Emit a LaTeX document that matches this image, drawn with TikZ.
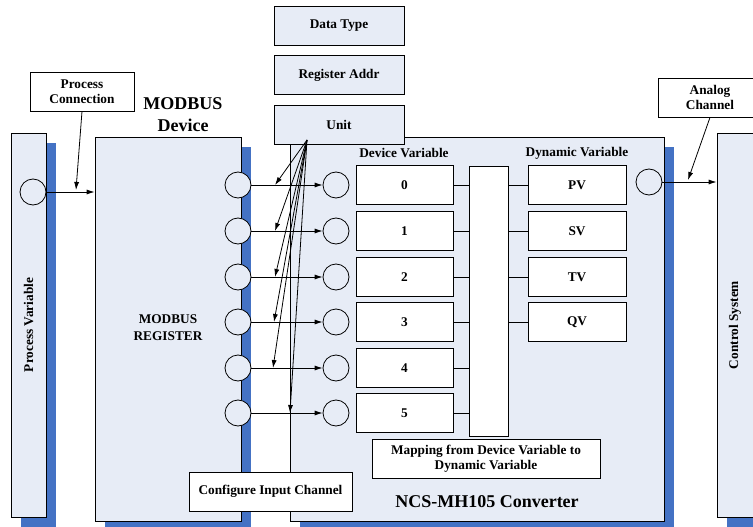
\documentclass[tikz,border=0pt]{standalone}
\usepackage{fontspec}
\setmainfont{Liberation Serif}
\usepackage{tikz}
\usetikzlibrary{positioning}
\usetikzlibrary{shadows}
\usetikzlibrary{arrows.meta}
\definecolor{boxfill}{RGB}{231,236,246}
\definecolor{shadowblue}{RGB}{68,114,196}
\tikzset{every picture/.style={line width=0.8pt,>={Latex[length=8pt,width=5pt]}},
panel/.style={draw,fill=boxfill,inner sep=0pt,drop shadow={shadow xshift=10pt,shadow yshift=-10pt,fill=shadowblue,opacity=1}},
tag/.style={draw,fill=white,inner sep=0pt,font=\fontsize{13.3}{15}\selectfont\bfseries,align=center},
bluetag/.style={tag,fill=boxfill,minimum width=130pt,minimum height=39pt},
port/.style={draw,circle,fill=boxfill,minimum size=26pt,inner sep=0pt},
title/.style={font=\fontsize{18}{22}\selectfont\bfseries,align=center},
caption/.style={font=\fontsize{13.3}{17}\selectfont\bfseries,align=center}}

\begin{document}
\begin{tikzpicture}[x=1pt,y=-1pt]
\useasboundingbox (0,0) rectangle (753,527);
% the four panels
\node[panel,minimum width=35pt,minimum height=384pt] (pvpanel) at (28.5,325) {};
\node[panel,minimum width=146pt,minimum height=384pt] (device) at (168,329) {};
\node[panel,minimum width=374pt,minimum height=384pt] (conv) at (477,329) {};
\node[panel,minimum width=53pt,minimum height=384pt] (cspanel) at (743.5,325) {};
\node[caption,rotate=90] (pvtext) at (pvpanel.center) {Process Variable};
\node[caption,rotate=90] (cstext) at (735,325) {Control System};
\node[title] (devtitle) at (183,115) {MODBUS\\Device};
\node[caption] (regtext) at (168,328) {MODBUS\\REGISTER};
\node[title] (convtitle) at (487,502) {NCS-MH105 Converter};
% channel settings
\node[bluetag] (dtype) at (339,25.5) {Data Type};
\node[bluetag,below=10pt of dtype] (raddr) {Register Addr};
\node[bluetag,below=10pt of raddr] (unit) {Unit};
\node[tag,minimum width=104pt,minimum height=39pt] (pconn) at (82,91.5) {Process\\Connection};
\node[tag,minimum width=104pt,minimum height=39pt] (achan) at (710,97.5) {Analog\\Channel};
% ports
\node[port] (pvport) at (33,192) {};
\node[port] (outport) at (649,182) {};
\node[port] (m0) at (238,185) {};
\node[port] (m1) at (238,231) {};
\node[port] (m2) at (238,277) {};
\node[port] (m3) at (238,322) {};
\node[port] (m4) at (238,368) {};
\node[port] (m5) at (238,413) {};
\node[port] (c0) at (336,185) {};
\node[port] (c1) at (336,231) {};
\node[port] (c2) at (336,277) {};
\node[port] (c3) at (336,322) {};
\node[port] (c4) at (336,368) {};
\node[port] (c5) at (336,413) {};
% device and dynamic variables
\node[caption] (dvhead) at (404,153) {Device Variable};
\node[caption] (dyhead) at (577,153) {Dynamic Variable};
\node[tag,minimum width=97pt,minimum height=39pt] (d0) at (404.5,185) {0};
\node[tag,minimum width=97pt,minimum height=39pt] (d1) at (404.5,231) {1};
\node[tag,minimum width=97pt,minimum height=39pt] (d2) at (404.5,277) {2};
\node[tag,minimum width=97pt,minimum height=39pt] (d3) at (404.5,322) {3};
\node[tag,minimum width=97pt,minimum height=39pt] (d4) at (404.5,368) {4};
\node[tag,minimum width=97pt,minimum height=39pt] (d5) at (404.5,413) {5};
\node[tag,minimum width=39pt,minimum height=270pt] (bar) at (488.5,301) {};
\node[tag,minimum width=98pt,minimum height=39pt] (pv) at (577,185) {PV};
\node[tag,minimum width=98pt,minimum height=39pt] (sv) at (577,231) {SV};
\node[tag,minimum width=98pt,minimum height=39pt] (tv) at (577,277) {TV};
\node[tag,minimum width=98pt,minimum height=39pt] (qv) at (577,322) {QV};
\node[tag,minimum width=228pt,minimum height=39pt] (mapping) at (486,458.5) {Mapping from Device Variable to\\Dynamic Variable};
\node[tag,minimum width=163pt,minimum height=39pt] (config) at (270.5,491.5) {Configure Input Channel};
% connections
\coordinate (pcend) at (76,190);
\coordinate (acend) at (688,180);
\draw[->] (pvport) -- (pvport -| device.west);
\draw[->] (pconn.south) -- (pcend);
\draw[->] (achan.south) -- (acend);
\draw[->] (outport) -- (outport -| cspanel.west);
\draw[->] (m0) -- (c0);
\draw[->] (m1) -- (c1);
\draw[->] (m2) -- (c2);
\draw[->] (m3) -- (c3);
\draw[->] (m4) -- (c4);
\draw[->] (m5) -- (c5);
\coordinate (ufoot) at (307,140);
\coordinate (t0) at (275,185);
\coordinate (t1) at (275,231);
\coordinate (t2) at (275,277);
\coordinate (t3) at (274,322);
\coordinate (t4) at (273,368);
\coordinate (t5) at (290,413);
\draw[->] (ufoot) -- (t0);
\draw[->] (ufoot) -- (t1);
\draw[->] (ufoot) -- (t2);
\draw[->] (ufoot) -- (t3);
\draw[->] (ufoot) -- (t4);
\draw[->] (ufoot) -- (t5);
\draw (d0) -- (d0 -| bar.west);
\draw (d1) -- (d1 -| bar.west);
\draw (d2) -- (d2 -| bar.west);
\draw (d3) -- (d3 -| bar.west);
\draw (d4) -- (d4 -| bar.west);
\draw (d5) -- (d5 -| bar.west);
\draw (pv) -- (pv -| bar.east);
\draw (sv) -- (sv -| bar.east);
\draw (tv) -- (tv -| bar.east);
\draw (qv) -- (qv -| bar.east);
\end{tikzpicture}
\end{document}
